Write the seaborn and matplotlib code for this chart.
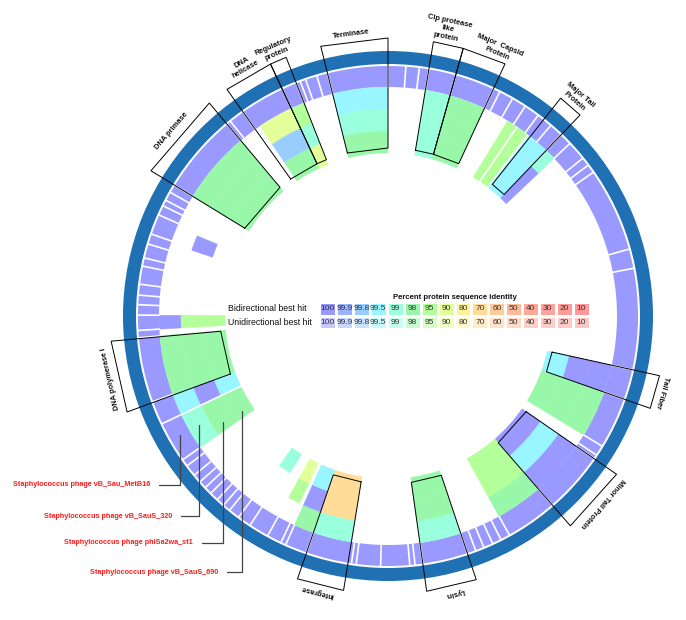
import numpy as np
import matplotlib
matplotlib.use("Agg")
import matplotlib.pyplot as plt
from matplotlib.colors import ListedColormap, to_rgb
import seaborn as sns

# ---------------- data ----------------
identity_levels = [100, 99.9, 99.8, 99.5, 99, 98, 95, 90, 80, 70, 60, 50, 40, 30, 20, 10]
bidir_colors = ['#9999ff', '#99b3ff', '#99ccff', '#99f5ff', '#99ffdd', '#99f7aa',
                '#b3ff99', '#e3ff99', '#fff299', '#ffdd99', '#ffcc99', '#ffbb99',
                '#ffaa99', '#ffa299', '#ff9c99', '#ff9999']
row_labels = ['Bidirectional best hit', 'Unidirectional best hit']
legend_title = 'Percent protein sequence identity'

# gene boundaries on the outer (reference) ring, degrees clockwise from top
ring1_bounds = [0, 4.1, 7.2, 9.4, 15.7, 24.9, 26.5, 29.8, 33.2, 36.8, 40.5, 43.7, 46.5,
                51, 53, 55, 74.5, 79, 102.4, 109.4, 121.3, 123.7, 124.7, 139, 151, 153.2,
                155.3, 157.5, 159.5, 161.5, 172, 173.8, 175, 181.7, 187.3, 188.4, 199,
                204.1, 205.3, 208.7, 213.4, 216.6, 219.2, 221, 222.9, 225, 226.8, 228.6,
                230.6, 233.3, 235, 244.5, 250, 265, 266.7, 270.2, 272.6, 274.8, 277.3,
                281.5, 283.4, 286.7, 289.1, 293.8, 296.1, 297.5, 299.6, 301.5, 320, 321,
                324.6, 335, 338.5, 339.5, 340.8, 343.5, 346]

# hits in the inner rings (ring 2..4)
seg_start = [301.5, 301.5, 301.5, 326, 326, 326, 335, 335, 335, 346, 346, 346,
             9.4, 9.4, 9.4, 15.7, 15.7, 15.7, 31.5, 31.5, 31.5, 34.3, 34.3, 34.3,
             38.0, 38.0, 38.0, 43.7, 43.7, 43.7, 102.4, 102.4, 102.4, 109.4, 109.4, 109.4,
             124.7, 124.7, 124.7, 139, 139, 139, 161.5, 161.5, 161.5, 189.2, 189.2, 189.2,
             199, 199, 199, 205.3, 205.3, 212, 235, 235, 235, 244.5, 244.5, 244.5,
             250, 250, 250, 266.7, 266.7, 266.7, 288.5]
seg_end = [320, 320, 320, 335, 335, 335, 338.5, 338.5, 338.5, 360, 360, 360,
           15.7, 15.7, 15.7, 24.9, 24.9, 24.9, 34.3, 34.3, 34.3, 37.4, 37.4, 37.4,
           43.7, 43.7, 43.7, 46.5, 46.5, 46.5, 109.4, 109.4, 109.4, 121.3, 121.3, 121.3,
           139, 139, 139, 151, 151, 151, 172, 172, 172, 199, 199, 199,
           204.1, 204.1, 204.1, 208.7, 208.7, 216, 244.5, 244.5, 244.5, 250, 250, 250,
           265, 265, 265, 270.2, 270.2, 270.2, 292.8]
seg_ring = [2, 3, 4, 2, 3, 4, 2, 3, 4, 2, 3, 4,
            2, 3, 4, 2, 3, 4, 2, 3, 4, 2, 3, 4,
            2, 3, 4, 2, 3, 4, 2, 3, 4, 2, 3, 4,
            2, 3, 4, 2, 3, 4, 2, 3, 4, 2, 3, 4,
            2, 3, 4, 3, 4, 4, 2, 3, 4, 2, 3, 4,
            2, 3, 4, 2, 3, 4, 3]
seg_identity = [98, 98, 98, 90, 99.8, 98, 95, 99, 90, 99.5, 99, 98,
                99, 99, 99, 98, 98, 98, 95, 95, 95, 95, 95, 95,
                99.5, 99.5, 99.5, 99, 100, 100, 100, 100, 99.5, 98, 98, 98,
                100, 99.5, 100, 98, 95, 95, 99, 98, 98, 99, 70, 70,
                98, 100, 99.5, 95, 90, 99, 99, 98, 98, 99.5, 100, 99.5,
                98, 98, 98, 100, 95, 95, 100]
inner_splits = [34.3, 244.5]

# annotated genes
box_names = ['DNA primase', 'DNA\nhelicase', 'Regulatory\nprotein', 'Terminase',
             'Clp protease\nlike\nprotein', 'Major  Capsid\nProtein', 'Major Tail\nProtein',
             'Tail Fiber', 'Minor Tail Protein', 'Lysin', 'Integrase', 'DNA polymerase I']
box_start = [301.5, 324.6, 335, 346, 9.4, 15.7, 38.4, 102.4, 124.7, 161.5, 189.2, 249.8]
box_end = [320, 335, 338.5, 360, 15.7, 24.9, 43.7, 109.4, 139, 172, 199, 264.8]
label_angle = [310.5, 330.0, 337.0, 352.5, 11.8, 22.5, 41.0, 105.5, 131.0, 166.5, 194.3, 257.3]

phage_names = ['Staphylococcus phage vB_Sau_MetB16', 'Staphylococcus phage vB_SauS_320',
               'Staphylococcus phage phiSa2wa_st1', 'Staphylococcus phage vB_SauS_690']
phage_ring = [1, 2, 3, 4]
phage_pointer_angle = [240.3, 239.9, 237.4, 237.1]

# ---------------- style / geometry ----------------
W, H, DPI = 686, 620, 100
CX, CY = 388, 316          # circle centre in pixels (from top-left)
RMAX = 300                 # radius of polar axes in pixels
ring_in = {1: 229, 2: 207, 3: 185, 4: 163}
ring_out = {1: 250, 2: 229, 3: 207, 4: 185}
BLUE = '#2070b4'

sns.set_theme(style='white')
plt.rcParams['font.family'] = ['Liberation Sans Narrow', 'Liberation Sans', 'DejaVu Sans']

fig = plt.figure(figsize=(W / DPI, H / DPI), dpi=DPI)
ax = fig.add_axes([(CX - RMAX) / W, (H - CY - RMAX) / H, 2 * RMAX / W, 2 * RMAX / H],
                  projection='polar')
ax.set_theta_zero_location('N')
ax.set_theta_direction(-1)
ax.set_ylim(0, RMAX)
ax.axis('off')

col_of = dict(zip(identity_levels, bidir_colors))
d2r = np.deg2rad

# blue backbone
ax.bar(0, 13, width=2 * np.pi, bottom=252, color=BLUE, edgecolor='none', linewidth=0)

# outer reference ring
b = np.array(ring1_bounds + [360.0])
ax.bar(d2r((b[:-1] + b[1:]) / 2), ring_out[1] - ring_in[1], width=d2r(np.diff(b)),
       bottom=ring_in[1], color=bidir_colors[0], edgecolor='none', linewidth=0)

# inner rings
for s, e, rg, idt in zip(seg_start, seg_end, seg_ring, seg_identity):
    ax.bar(d2r((s + e) / 2), ring_out[rg] - ring_in[rg], width=d2r(e - s),
           bottom=ring_in[rg], color=col_of[idt], edgecolor=col_of[idt], linewidth=0.3)

# white separators
ax.vlines(d2r(np.array(ring1_bounds)), ring_in[1] - 0.5, ring_out[1] + 0.5,
          color='white', lw=1.2)
ax.vlines(d2r(np.array(inner_splits)), ring_in[4] - 1, ring_out[2],
          color='white', lw=1.2)

# gene boxes and labels
R_BOX_IN, R_BOX_OUT = 168, 278
for name, s, e, la in zip(box_names, box_start, box_end, label_angle):
    th = d2r(np.array([s, s, e, e, s]))
    ax.plot(th, [R_BOX_IN, R_BOX_OUT, R_BOX_OUT, R_BOX_IN, R_BOX_IN],
            color='black', lw=0.7, solid_joinstyle='miter')
    ax.text(d2r(la), R_BOX_OUT + 3, name, rotation=-la, rotation_mode='anchor',
            ha='center', va='bottom', fontsize=5.4, fontweight='bold',
            multialignment='center', linespacing=1.3, color='#111111')

# phage labels
label_xy = [(150, H - 485), (172, H - 516), (193, H - 543), (218, H - 572)]
for name, rg, ang, (tx, ty) in zip(phage_names, phage_ring, phage_pointer_angle, label_xy):
    rc = (ring_in[rg] + ring_out[rg]) / 2
    ax.annotate(name, xy=(d2r(ang), rc), xycoords='data', xytext=(tx, ty),
                textcoords='figure pixels', ha='right', va='center', color='#ff1a1a',
                fontsize=5.2, fontweight='bold', annotation_clip=False,
                arrowprops=dict(arrowstyle='-', color='#444444', lw=0.9, shrinkA=4,
                                shrinkB=0,
                                connectionstyle='angle,angleA=0,angleB=90,rad=0'))

# legend as a heatmap
L0, L1, T0, T1 = 319, 590, 302, 329
lax = fig.add_axes([L0 / W, (H - T1) / H, (L1 - L0) / W, (T1 - T0) / H])
light = [tuple(0.55 * np.array(to_rgb(c)) + 0.45) for c in bidir_colors]
cmap = ListedColormap(list(bidir_colors) + light)
n = len(identity_levels)
vals = np.vstack([np.arange(n), np.arange(n) + n])
txt = np.array([[('%g' % v) for v in identity_levels]] * 2)
sns.heatmap(vals, ax=lax, cmap=cmap, vmin=-0.5, vmax=2 * n - 0.5, cbar=False,
            annot=txt, fmt='', annot_kws={'size': 6.0, 'color': '#333333'},
            linewidths=1, linecolor='white', xticklabels=False, yticklabels=row_labels)
lax.tick_params(axis='y', length=0, pad=(L0 - 228) * 0.72, labelsize=6.3,
                labelcolor='#111111')
for t in lax.get_yticklabels():
    t.set_rotation(0)
    t.set_horizontalalignment('left')
lax.set_title(legend_title, fontsize=5.6, fontweight='bold', pad=2.5, color='#111111')

fig.savefig('out.png', dpi=DPI)
